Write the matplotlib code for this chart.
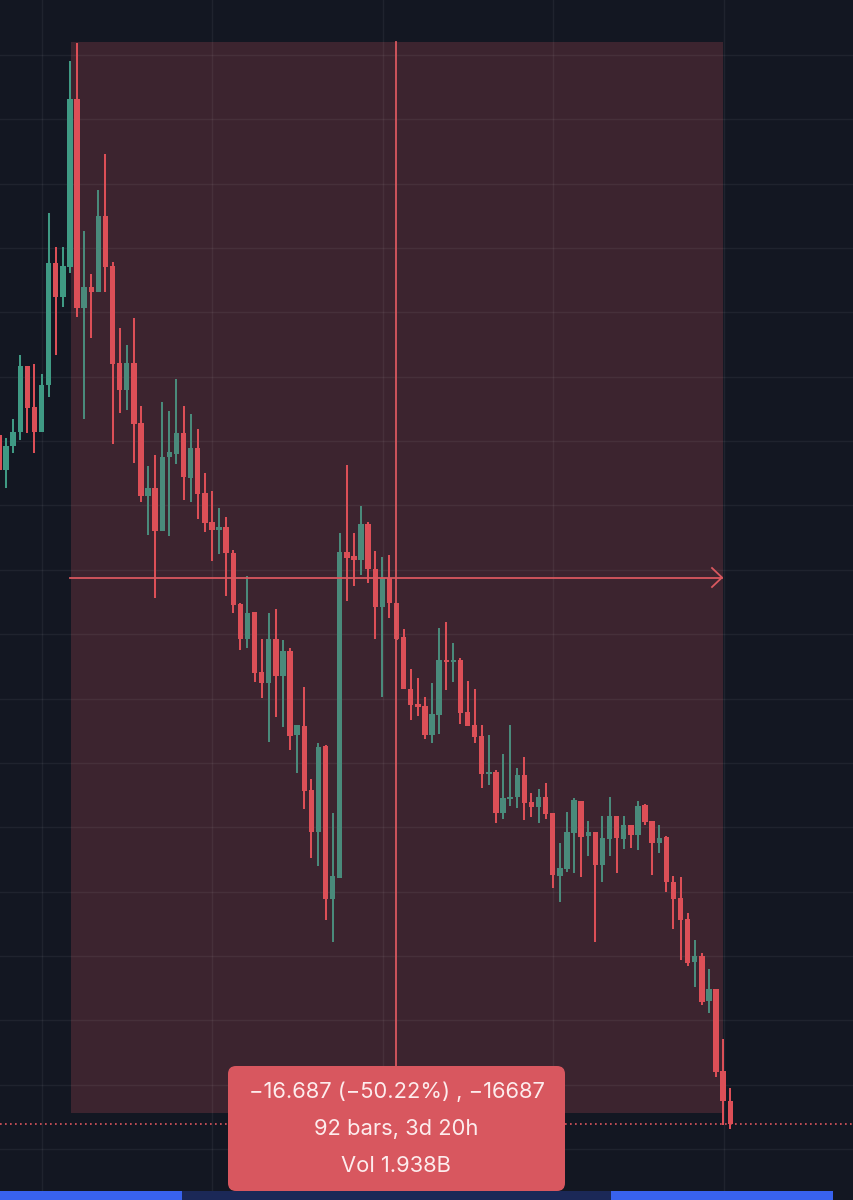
import matplotlib
matplotlib.use('Agg')
import matplotlib.pyplot as plt
from matplotlib.patches import FancyBboxPatch, Rectangle

# candle values as rows counted down from the top of the picture (no price axis is shown)
highs = [430, 438, 419, 355, 366, 364, 374, 213, 247, 247, 61, 43, 231, 274, 190, 154, 262, 328, 345, 318,
         406, 466, 455, 402, 411, 379, 406, 414, 429, 473, 491, 508, 517, 550, 603, 576, 612, 639, 613, 609,
         640, 648, 725, 687, 779, 743, 745, 813, 533, 465, 533, 506, 522, 551, 557, 555, 603, 629, 669, 678,
         697, 683, 628, 622, 643, 658, 681, 689, 725, 735, 770, 754, 725, 768, 757, 793, 789, 783, 813, 843,
         812, 798, 801, 821, 832, 816, 797, 816, 816, 825, 801, 804, 821, 825, 836, 876, 877, 913, 940, 953,
         969, 989, 1039, 1088]
lows = [472, 488, 453, 440, 433, 453, 432, 397, 355, 307, 273, 317, 419, 338, 292, 292, 444, 413, 410, 463,
        502, 535, 598, 531, 536, 464, 500, 502, 519, 532, 561, 554, 596, 613, 650, 648, 682, 698, 742, 717,
        727, 750, 773, 809, 858, 866, 920, 942, 878, 601, 586, 575, 583, 639, 697, 618, 640, 689, 720, 716,
        739, 743, 734, 690, 682, 724, 726, 743, 788, 785, 823, 819, 806, 808, 820, 817, 823, 819, 888, 902,
        872, 873, 877, 856, 942, 882, 856, 873, 849, 848, 850, 825, 875, 853, 892, 929, 960, 966, 987, 1005,
        1013, 1077, 1125, 1129]
body_tops = [435, 446, 432, 366, 366, 407, 385, 263, 263, 266, 99, 99, 287, 287, 216, 216, 266, 363, 363, 363,
             423, 488, 488, 457, 452, 433, 433, 448, 448, 493, 522, 527, 527, 553, 604, 613, 612, 672, 639, 639,
             651, 651, 725, 726, 790, 747, 746, 876, 552, 552, 556, 524, 524, 569, 578, 578, 603, 637, 689, 704,
             706, 714, 660, 660, 660, 660, 712, 725, 736, 772, 772, 798, 797, 775, 775, 802, 797, 797, 813, 868,
             832, 800, 801, 832, 832, 838, 816, 816, 825, 825, 806, 805, 821, 838, 837, 882, 898, 919, 956, 956,
             989, 989, 1071, 1101]
body_bottoms = [470, 470, 446, 432, 408, 432, 432, 385, 297, 297, 267, 308, 308, 292, 292, 267, 364, 390, 390, 424,
                496, 496, 531, 531, 457, 454, 477, 478, 494, 523, 530, 530, 553, 605, 639, 639, 673, 683, 683, 676,
                676, 736, 735, 791, 832, 832, 899, 899, 878, 558, 560, 560, 569, 607, 607, 603, 639, 689, 705, 707,
                735, 735, 715, 662, 662, 713, 726, 737, 774, 774, 813, 813, 799, 797, 803, 807, 807, 814, 875, 876,
                869, 833, 837, 836, 865, 865, 839, 838, 839, 835, 835, 822, 843, 843, 882, 899, 920, 963, 962, 1002,
                1001, 1072, 1101, 1124]
# 1 = up candle, 0 = down candle
rising = [0, 1, 1, 1, 0, 0, 1, 1, 0, 1, 1, 0, 1, 0, 1, 0, 0, 0, 1, 0,
          0, 1, 0, 1, 1, 1, 0, 1, 0, 0, 0, 1, 0, 0, 0, 1, 0, 0, 1, 0,
          1, 0, 1, 0, 0, 1, 0, 1, 1, 0, 0, 1, 0, 0, 1, 0, 0, 0, 0, 0,
          0, 1, 1, 0, 1, 0, 0, 0, 0, 1, 0, 1, 1, 1, 0, 0, 1, 0, 0, 1,
          1, 1, 0, 1, 0, 1, 1, 0, 1, 0, 1, 0, 0, 1, 0, 0, 0, 0, 1, 0,
          1, 0, 0, 0]

tooltip_lines = ['\u221216.687 (\u221250.22%) , \u221216687', '92 bars, 3d 20h', 'Vol 1.938B']

BG = '#131722'
RED = '#dc4f57'
GREEN_IN = '#4a8a7b'
GREEN_OUT = '#3f9a84'
GRID = '#ffffff'

# grid and range box geometry, in picture pixels
grid_rows = [55 + 64.35 * k for k in range(18)]
grid_cols = [42 + 170.4 * k for k in range(5)]


def main():
    fig = plt.figure(figsize=(8.54, 12), dpi=100, facecolor=BG)
    ax = fig.add_axes([0, 0, 1, 1], facecolor=BG)
    ax.set_xlim(0, 854)
    ax.set_ylim(1200, 0)
    ax.axis('off')

    # range box
    ax.add_patch(Rectangle((71, 42), 652, 1071, facecolor='#3c242f', edgecolor='none', zorder=1))
    for y in grid_rows:
        ax.axhline(y, color=GRID, alpha=0.055, lw=1, zorder=2)
    for x in grid_cols:
        ax.axvline(x, color=GRID, alpha=0.055, lw=1, zorder=2)

    # candles
    for i in range(len(highs)):
        x = -1 + 7.1 * i
        if rising[i]:
            color = GREEN_IN if x >= 71 else GREEN_OUT
        else:
            color = RED
        ax.vlines(x, highs[i], lows[i], color=color, lw=1.45, zorder=3)
        ax.add_patch(Rectangle((x - 2.7, body_tops[i]), 5.4, body_bottoms[i] - body_tops[i],
                               facecolor=color, edgecolor='none', zorder=3))

    # crosshair and arrow
    ax.plot([396.5, 396.5], [42, 1070], color='#d9585f', lw=1.3, zorder=4)
    ax.plot([70, 722], [577.5, 577.5], color='#d9585f', lw=1.3, zorder=4)
    ax.plot([712, 722, 712], [568, 577.5, 587], color='#d9585f', lw=1.3, zorder=4)

    # last price line
    ax.plot([0, 854], [1124, 1124], color='#e0565e', lw=1.2, ls=(0, (1, 2.0)), zorder=2.5)

    # measure tooltip
    ax.add_patch(FancyBboxPatch((236, 1074), 321, 109, boxstyle='round,pad=8,rounding_size=8',
                                facecolor='#d8575f', edgecolor='none', zorder=5))
    for line, y in zip(tooltip_lines, [1092, 1129, 1166]):
        ax.text(396.5, y, line, color='#fdeced', fontsize=15.8, family='Inter',
                ha='center', va='center', zorder=6)

    # scrollbar strip at the bottom
    ax.add_patch(Rectangle((0, 1191), 182, 9, facecolor='#3862ee', edgecolor='none', zorder=5))
    ax.add_patch(Rectangle((182, 1191), 429, 9, facecolor='#1b2857', edgecolor='none', zorder=5))
    ax.add_patch(Rectangle((611, 1191), 222, 9, facecolor='#3862ee', edgecolor='none', zorder=5))

    fig.savefig('out.png', dpi=100, facecolor=BG)


if __name__ == '__main__':
    main()
